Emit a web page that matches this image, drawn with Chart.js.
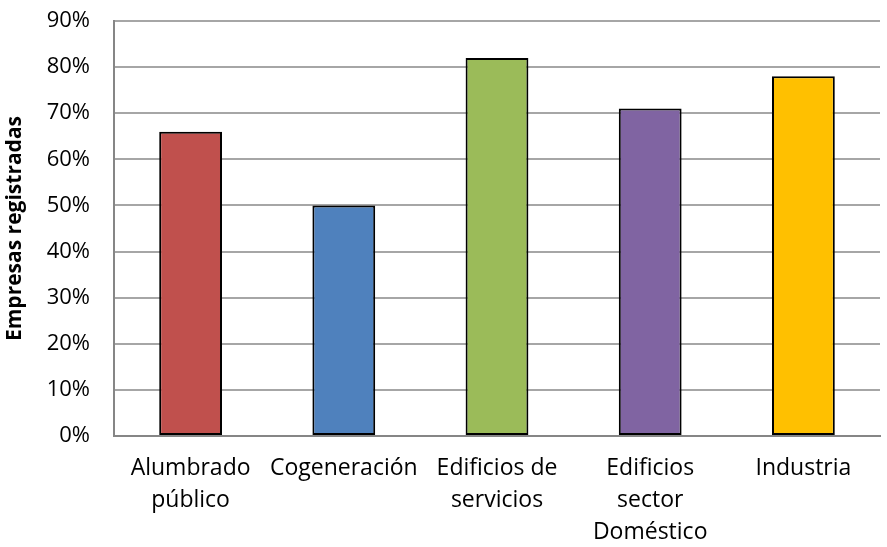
<!DOCTYPE html>
<html>
<head>
<meta charset="utf-8">
<script src="https://cdn.jsdelivr.net/npm/chart.js@4/dist/chart.umd.min.js"></script>
<style>
  html, body { margin: 0; padding: 0; background: #fff; }
  #wrap { width: 887px; height: 547px; }
</style>
</head>
<body>
<div id="wrap"><canvas id="chart" width="887" height="547"></canvas></div>
<script>
// categories and values (percent of companies registered)
var categories = [
  ['Alumbrado', 'público'],
  ['Cogeneración'],
  ['Edificios de', 'servicios'],
  ['Edificios', 'sector', 'Doméstico'],
  ['Industria']
];
var values = [66, 50, 82, 71, 78];
var barColors = ['#C0504D', '#4F81BD', '#9BBB59', '#8064A2', '#FFC000'];
var yTicks = [0, 10, 20, 30, 40, 50, 60, 70, 80, 90];
var yTitle = 'Empresas registradas';

var font = '"Open Sans", "DejaVu Sans", sans-serif';

new Chart(document.getElementById('chart').getContext('2d'), {
  type: 'bar',
  data: {
    labels: categories,
    datasets: [{
      data: values,
      backgroundColor: barColors,
      borderColor: '#000000',
      borderWidth: 2,
      borderSkipped: false,
      categoryPercentage: 1.0,
      barPercentage: 0.41
    }]
  },
  options: {
    responsive: false,
    animation: false,
    layout: { padding: { left: 2, right: 7, top: 21, bottom: 0 } },
    plugins: {
      legend: { display: false },
      tooltip: { enabled: false }
    },
    scales: {
      x: {
        grid: { display: false, drawTicks: false },
        border: { display: true, color: '#868686', width: 2 },
        ticks: {
          color: '#000',
          font: { family: font, size: 23, lineHeight: 1.4 },
          padding: 16,
          maxRotation: 0,
          autoSkip: false
        },
        afterFit: function (scale) { scale.height = 111; scale.paddingLeft = 0; scale.paddingRight = 0; }
      },
      y: {
        min: 0,
        max: 90,
        afterBuildTicks: function (scale) {
          scale.ticks = yTicks.map(function (v) { return { value: v }; });
        },
        grid: { color: '#a6a6a6', lineWidth: 2, drawTicks: false },
        border: { display: true, color: '#868686', width: 2 },
        ticks: {
          color: '#000',
          font: { family: font, size: 22 },
          padding: 24,
          callback: function (v) { return v + '%'; }
        },
        title: {
          display: true,
          text: yTitle,
          color: '#000',
          font: { family: font, size: 21, weight: 'bold' },
          padding: { top: 0, bottom: 2 }
        },
        afterFit: function (scale) { scale.width = 112; scale.paddingTop = 0; scale.paddingBottom = 0; }
      }
    }
  }
});
</script>
</body>
</html>
